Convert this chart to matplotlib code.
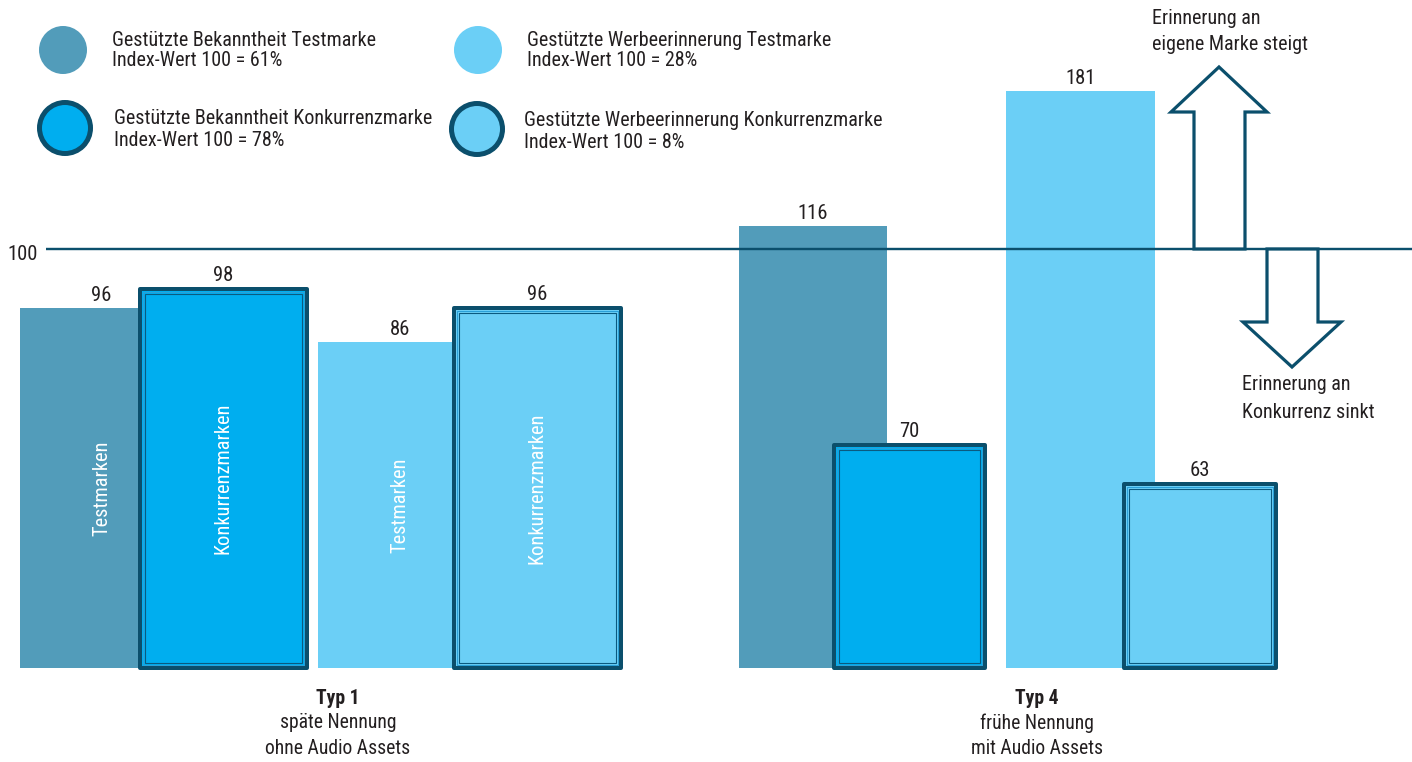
import numpy as np
import matplotlib
matplotlib.use("Agg")
import matplotlib.pyplot as plt
import matplotlib.font_manager as fm
from matplotlib.patches import Polygon, Circle, Rectangle

# ---------------- data ----------------
series_names = ["Gestützte Bekanntheit Testmarke",
                "Gestützte Bekanntheit Konkurrenzmarke",
                "Gestützte Werbeerinnerung Testmarke",
                "Gestützte Werbeerinnerung Konkurrenzmarke"]
index_base = ["61%", "78%", "28%", "8%"]
group_titles = ["Typ 1", "Typ 4"]
group_subtitles = [["späte Nennung", "ohne Audio Assets"],
                   ["frühe Nennung", "mit Audio Assets"]]
typ1_values = [96, 98, 86, 96]
typ4_values = [116, 70, 181, 63]
typ1_inner_labels = ["Testmarken", "Konkurrenzmarken", "Testmarken", "Konkurrenzmarken"]
reference_value = 100
note_up = ["Erinnerung an", "eigene Marke steigt"]
note_down = ["Erinnerung an", "Konkurrenz sinkt"]

# ---------------- styles / layout ----------------
C_TEST = "#529cba"
C_KONK = "#00aeef"
C_WERB = "#6bcff6"
C_DARK = "#0b4f6c"
C_TEXT = "#231f20"
series_colors = [C_TEST, C_KONK, C_WERB, C_WERB]
series_bordered = [False, True, False, True]

# pick a narrow font if one is available
installed = {(f.name, f.stretch) for f in fm.fontManager.ttflist}
names = {n for n, _ in installed}
FAMILY, STRETCH = "Roboto", "normal"
for cand in ["Roboto Condensed", "Liberation Sans Narrow", "Arial Narrow", "Open Sans Condensed",
             "Noto Sans Condensed"]:
    if cand in names:
        FAMILY = cand
        break
else:
    for fam in ["Noto Sans", "Open Sans", "Roboto"]:
        st = [s for n, s in installed if n == fam and str(s) in ("condensed", "semi-condensed", "75", "87")]
        if st:
            FAMILY, STRETCH = fam, st[0]
            break
plt.rcParams["font.family"] = [FAMILY, "DejaVu Sans"]
plt.rcParams["font.stretch"] = STRETCH

W, H = 1412, 762
bar_left = [[20, 140, 318, 454], [739, 834, 1006, 1124]]
bar_width = [[163, 167, 164, 167], [148, 151, 149, 152]]

# non-linear display scale of the infographic (value -> pixel row)
scale_vals = np.array([-32, 0, 63, 70, 86, 96, 98, 100, 116, 181, 228], float)
scale_rows = np.array([762, 668, 484, 445, 342, 308, 289, 249, 226, 91, 0], float)
scale_h = H - scale_rows


def fwd(v):
    return np.interp(v, scale_vals, scale_h)


def inv(h):
    return np.interp(h, scale_h, scale_vals)


fig = plt.figure(figsize=(W / 100, H / 100), dpi=100)
renderer = fig.canvas.get_renderer()


def fit_size(s, target_px, **kw):
    t = fig.text(0, 0, s, fontsize=10, **kw)
    w = t.get_window_extent(renderer).width
    t.remove()
    return 10 * target_px / w


S_LEG = fit_size("Gestützte Bekanntheit Konkurrenzmarke", 317)
S_NOTE = fit_size("eigene Marke steigt", 155)
S_IN = fit_size("Konkurrenzmarken", 151)
S_GRP = fit_size("ohne Audio Assets", 144)
S_VAL = fit_size("100", 30)
S_VAL = min(S_VAL, S_LEG * 1.05)

ax = fig.add_axes([0, 0, 1, 1])
ax.set_xlim(0, W)
ax.set_yscale("function", functions=(fwd, inv))
ax.set_ylim(scale_vals[0], scale_vals[-1])
ax.axis("off")

ov = fig.add_axes([0, 0, 1, 1], zorder=5)
ov.set_xlim(0, W)
ov.set_ylim(H, 0)
ov.axis("off")
ov.patch.set_alpha(0)

px = 0.72  # points per pixel at 100 dpi

all_values = [typ1_values, typ4_values]
for g, vals in enumerate(all_values):
    for i, v in enumerate(vals):
        L = bar_left[g][i]
        Wd = bar_width[g][i]
        z = 3 if series_bordered[i] else 2
        if series_bordered[i]:
            ax.bar(L, v, width=Wd, align="edge", color=series_colors[i],
                   edgecolor=C_DARK, linewidth=4.0 * px, joinstyle="round", zorder=z)
            ins2 = 3.3
            y0 = inv(fwd(0) + ins2)
            y1 = inv(fwd(v) - ins2)
            ax.add_patch(Rectangle((L + ins2, y0), Wd - 2 * ins2, y1 - y0, fill=False,
                                   edgecolor="#2aa0d8", linewidth=1.0 * px, zorder=z + 0.05))
            ins = 4.8
            y0 = inv(fwd(0) + ins)
            y1 = inv(fwd(v) - ins)
            ax.add_patch(Rectangle((L + ins, y0), Wd - 2 * ins, y1 - y0, fill=False,
                                   edgecolor="#0a5a80", linewidth=1.1 * px, zorder=z + 0.1))
            off = 8
        else:
            ax.bar(L, v, width=Wd, align="edge", color=series_colors[i],
                   linewidth=0, zorder=z)
            off = 7
        ax.annotate(str(v), (L + Wd / 2, v), xytext=(0, off * px), textcoords="offset points",
                    ha="center", va="baseline", fontsize=S_VAL, color=C_TEXT, zorder=6)
        if g == 0:
            ymid = inv((fwd(0) + fwd(v)) / 2)
            ax.text(L + Wd / 2, ymid, typ1_inner_labels[i], rotation=90, ha="center",
                    va="center", color="white", fontsize=S_IN, zorder=6)

# reference line
ax.hlines(reference_value, 46, W, color=C_DARK, linewidth=2.4 * px, zorder=4)
ax.annotate(str(reference_value), (38, reference_value), xytext=(0, -6 * px),
            textcoords="offset points", ha="right", va="center", fontsize=S_VAL, color=C_TEXT)

# arrows (pixel overlay)
yl = H - fwd(reference_value)
up = [(1194, yl), (1194, 112), (1171, 112), (1219, 67), (1267, 112), (1245, 112), (1245, yl)]
dn = [(1267, yl), (1267, 322), (1243, 322), (1292, 367), (1341, 322), (1318, 322), (1318, yl)]
for pts in (up, dn):
    ov.add_patch(Polygon(pts, closed=True, facecolor="white", edgecolor=C_DARK,
                         linewidth=3.2 * px, joinstyle="miter"))
for k, s in enumerate(note_up):
    ov.text(1152, 18 + 27 * k, s, ha="left", va="center", fontsize=S_NOTE, color=C_TEXT)
for k, s in enumerate(note_down):
    ov.text(1242, 385 + 27 * k, s, ha="left", va="center", fontsize=S_NOTE, color=C_TEXT)

# legend
leg_pos = [(63, 50, 112, 40), (65, 128, 114, 119), (478, 50, 527, 40), (477, 129, 524, 121)]
for i, (cx, cy, tx, ty) in enumerate(leg_pos):
    if series_bordered[i]:
        ov.add_patch(Circle((cx, cy), 25.5, facecolor=series_colors[i], edgecolor=C_DARK,
                            linewidth=5 * px))
    else:
        ov.add_patch(Circle((cx, cy), 24, facecolor=series_colors[i], edgecolor="none"))
    ov.text(tx, ty, series_names[i], ha="left", va="center", fontsize=S_LEG, color=C_TEXT)
    ov.text(tx, ty + 21, f"Index-Wert 100 = {index_base[i]}", ha="left", va="center",
            fontsize=S_LEG, color=C_TEXT)

# group labels
grp_x = [338, 1037]
for g in range(2):
    ov.text(grp_x[g], 698, group_titles[g], ha="center", va="center", fontsize=S_GRP,
            fontweight="bold", color=C_TEXT)
    for k, s in enumerate(group_subtitles[g]):
        ov.text(grp_x[g], 723 + 25 * k, s, ha="center", va="center", fontsize=S_GRP,
                color=C_TEXT)

fig.savefig("out.png", dpi=100)
